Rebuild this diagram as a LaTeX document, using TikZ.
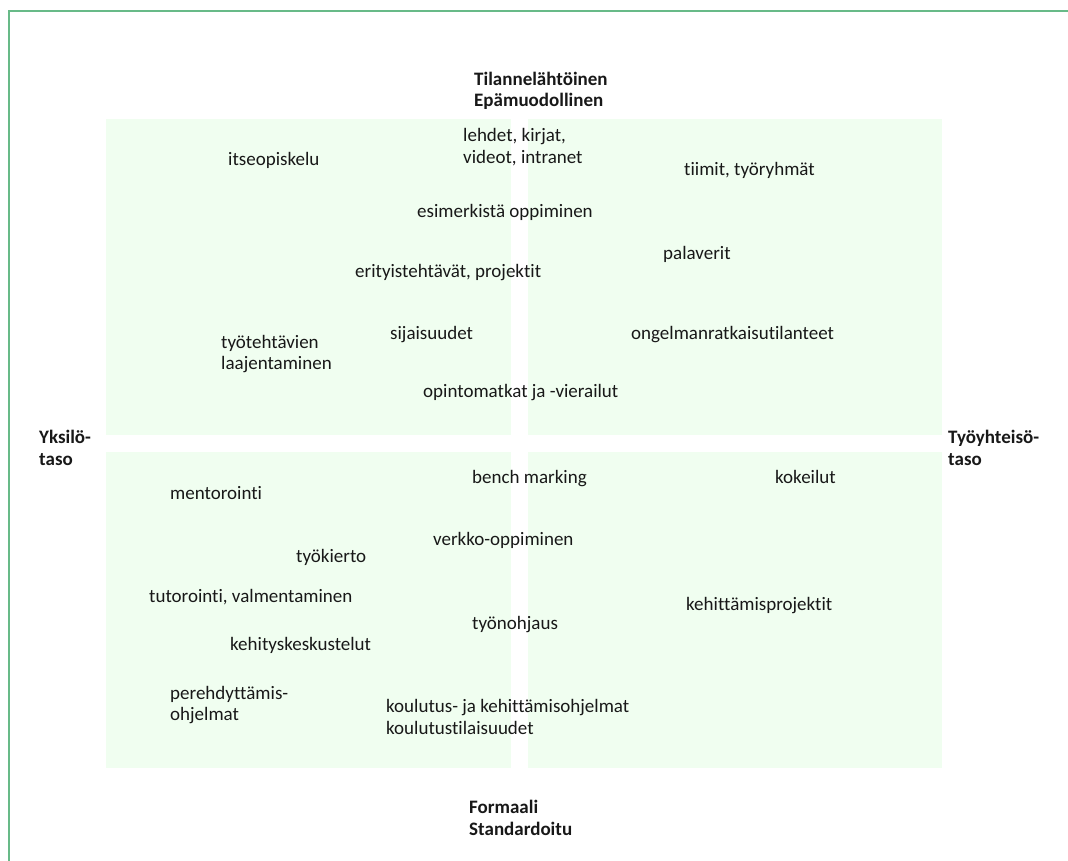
\documentclass[tikz,border=0pt]{standalone}
\usepackage{fontspec}
\setmainfont{Carlito}[Ligatures=NoCommon]
\definecolor{quadfill}{RGB}{240,254,240}
\definecolor{framegreen}{RGB}{104,186,136}
\definecolor{inktext}{RGB}{24,24,24}
\begin{document}
\begin{tikzpicture}[x=1pt,y=-1pt,
  item/.style={anchor=west,inner sep=0pt,align=left,text=inktext,
    font=\fontsize{19}{21.5}\selectfont},
  axislabel/.style={item,font=\fontsize{19}{21.5}\selectfont\bfseries},
  quad/.style={fill=quadfill,draw=none}]
\useasboundingbox (0,0) rectangle (1068,861);
\fill[white] (0,0) rectangle (1068,861);
% frame lines (top and left)
\draw[framegreen,line width=1.5pt] (9,861) -- (9,11) -- (1068,11);
% four quadrants
\fill[quad] (106,119) rectangle (511,435);
\fill[quad] (528,119) rectangle (942,435);
\fill[quad] (106,452) rectangle (511,768);
\fill[quad] (528,452) rectangle (942,768);
% axis labels
\node[axislabel] (top) at (474,91) {Tilannelähtöinen\\Epämuodollinen};
\node[axislabel] (bottom) at (469,818) {Formaali\\Standardoitu};
\node[axislabel] (left) at (39,448) {Yksilö-\\taso};
\node[axislabel] (right) at (948,448) {Työyhteisö-\\taso};
% upper half
\node[item] (itse) at (228,160) {itseopiskelu};
\node[item] (lehdet) at (463,147) {lehdet, kirjat,\\videot, intranet};
\node[item] (tiimit) at (684,170) {tiimit, työryhmät};
\node[item] (esim) at (417,212) {esimerkistä oppiminen};
\node[item] (pala) at (663,254) {palaverit};
\node[item] (erit) at (355,273) {erityistehtävät, projektit};
\node[item] (sija) at (390,335) {sijaisuudet};
\node[item] (ongel) at (631,335) {ongelmanratkaisutilanteet};
\node[item] (tyoteh) at (221,354) {työtehtävien\\laajentaminen};
\node[item] (opinto) at (423,393) {opintomatkat ja -vierailut};
% lower half
\node[item] (bench) at (472,479) {bench marking};
\node[item] (kokeil) at (775,477) {kokeilut};
\node[item] (mentor) at (170,493) {mentorointi};
\node[item] (verkko) at (433,540) {verkko-oppiminen};
\node[item] (kierto) at (296,557) {työkierto};
\node[item] (tutor) at (149,597) {tutorointi, valmentaminen};
\node[item] (kehpro) at (686,606) {kehittämisprojektit};
\node[item] (ohjaus) at (472,625) {työnohjaus};
\node[item] (kehkes) at (230,645) {kehityskeskustelut};
\node[item] (pereh) at (170,705) {perehdyttämis-\\ohjelmat};
\node[item] (koul) at (386,717) {koulutus- ja kehittämisohjelmat\\koulutustilaisuudet};
\end{tikzpicture}
\end{document}
